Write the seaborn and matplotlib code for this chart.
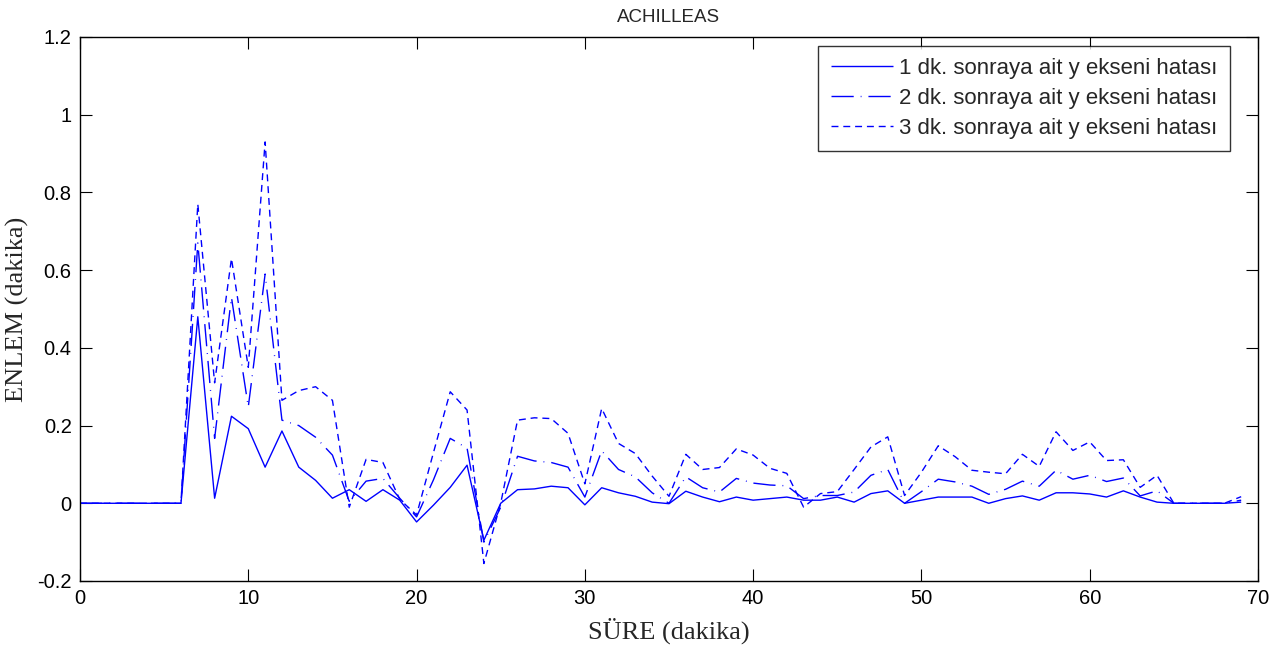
import matplotlib
matplotlib.use("Agg")
import matplotlib.pyplot as plt
import seaborn as sns
import numpy as np
import pandas as pd

minutes = list(range(0, 70))
err_1dk = [0, 0, 0, 0, 0, 0, 0, 0.48, 0.013, 0.224,
           0.192, 0.093, 0.186, 0.093, 0.059, 0.013, 0.035, 0.005, 0.035, 0.008,
           -0.048, -0.005, 0.041, 0.098, -0.095, 0.0, 0.035, 0.037, 0.044, 0.040,
           -0.004, 0.040, 0.027, 0.018, 0.003, -0.001, 0.031, 0.016, 0.004, 0.016,
           0.008, 0.012, 0.016, 0.008, 0.008, 0.016, 0.003, 0.025, 0.032, 0.0,
           0.008, 0.016, 0.016, 0.016, 0.0, 0.012, 0.019, 0.008, 0.027, 0.027,
           0.024, 0.016, 0.032, 0.016, 0.003, 0, 0, 0, 0, 0.003]
err_2dk = [0, 0, 0, 0, 0, 0, 0, 0.67, 0.167, 0.53,
           0.248, 0.59, 0.214, 0.2, 0.17, 0.124, 0.005, 0.057, 0.064, 0.013,
           -0.035, 0.06, 0.167, 0.142, -0.10, -0.01, 0.121, 0.109, 0.105, 0.093,
           0.016, 0.135, 0.087, 0.068, 0.027, 0.0, 0.068, 0.04, 0.029, 0.064,
           0.052, 0.047, 0.045, 0.012, 0.02, 0.02, 0.029, 0.072, 0.087, 0.0,
           0.03, 0.062, 0.055, 0.044, 0.023, 0.036, 0.057, 0.044, 0.085, 0.062,
           0.072, 0.056, 0.065, 0.019, 0.032, 0, 0, 0, 0, 0.008]
err_3dk = [0, 0, 0, 0, 0, 0, 0, 0.77, 0.31, 0.63,
           0.35, 0.93, 0.265, 0.29, 0.30, 0.265, -0.01, 0.113, 0.105, 0.01,
           -0.03, 0.13, 0.287, 0.24, -0.155, 0.0, 0.214, 0.22, 0.218, 0.18,
           0.05, 0.244, 0.154, 0.128, 0.07, 0.018, 0.126, 0.087, 0.092, 0.14,
           0.124, 0.09, 0.077, -0.01, 0.025, 0.03, 0.087, 0.145, 0.171, 0.02,
           0.08, 0.148, 0.12, 0.085, 0.08, 0.076, 0.126, 0.095, 0.184, 0.136,
           0.158, 0.11, 0.112, 0.041, 0.072, 0, 0, 0, 0, 0.017]

labels = ["1 dk. sonraya ait y ekseni hatası",
          "2 dk. sonraya ait y ekseni hatası",
          "3 dk. sonraya ait y ekseni hatası"]
x_ticks = [0, 10, 20, 30, 40, 50, 60, 70]
y_ticks = [-0.2, 0, 0.2, 0.4, 0.6, 0.8, 1, 1.2]
y_ticklabels = ["-0.2", "0", "0.2", "0.4", "0.6", "0.8", "1", "1.2"]

sns.set_style("ticks")
plt.rcParams["font.family"] = ["Liberation Sans", "DejaVu Sans"]
plt.rcParams["lines.scale_dashes"] = False

fig = plt.figure(figsize=(12.78, 6.59), dpi=100)
ax = fig.add_axes([80/1278, 1-581/659, 1178/1278, 544/659])

styles = [(0, ()), (0, (16, 5, 0.6, 5)), (0, (5, 3.5))]
series = [err_1dk, err_2dk, err_3dk]
for vals, lab, ls in zip(series, labels, styles):
    df = pd.DataFrame({"t": minutes, "v": vals})
    sns.lineplot(data=df, x="t", y="v", ax=ax, color="blue", linewidth=1.0,
                 linestyle=ls, label=lab)

ax.set_xlim(0, 70)
ax.set_ylim(-0.2, 1.2)
ax.set_xticks(x_ticks)
ax.set_yticks(y_ticks)
ax.set_yticklabels(y_ticklabels)
ax.tick_params(direction="in", length=8.5, width=0.8, top=True, right=True,
               labelsize=14.5, colors="black", pad=6)
for sp in ax.spines.values():
    sp.set_linewidth(1.0)
    sp.set_color("black")

ax.set_title("ACHILLEAS", fontsize=13.5, pad=11)
ax.set_xlabel("SÜRE (dakika)", family=["Liberation Serif", "DejaVu Serif"], fontsize=19, labelpad=7)
ax.set_ylabel("ENLEM (dakika)", family=["Liberation Serif", "DejaVu Serif"], fontsize=19, labelpad=6)

leg = ax.legend(loc="upper right", bbox_to_anchor=((1230-80)/1178, (581-46)/544),
                prop={"size": 16}, frameon=True, fancybox=False, handlelength=2.8,
                borderaxespad=0, borderpad=0.55, labelspacing=0.4, handletextpad=0.3)
leg.get_frame().set_edgecolor("black")
leg.get_frame().set_linewidth(1.0)

fig.savefig("out.png", dpi=100)
